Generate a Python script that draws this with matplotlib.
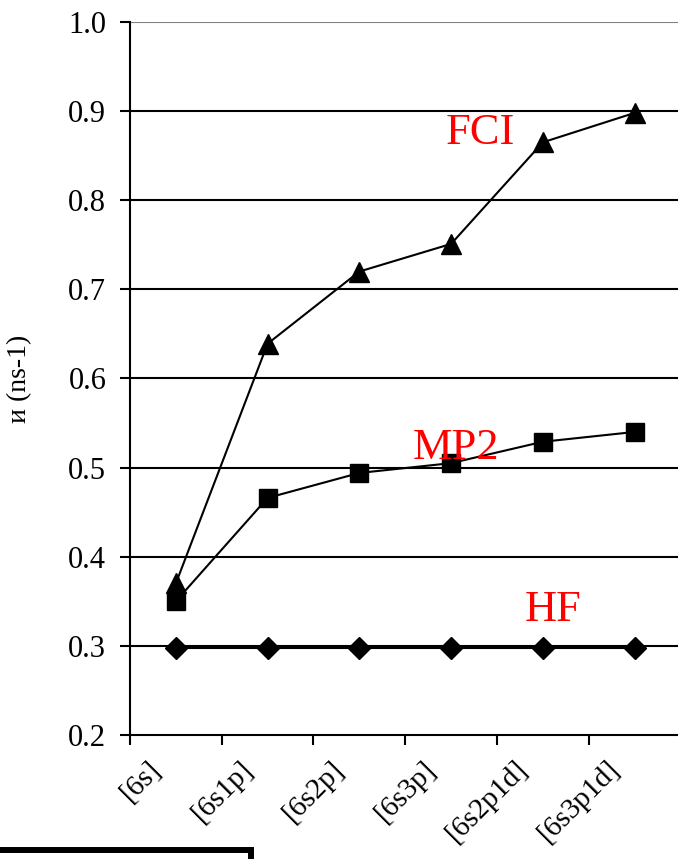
import matplotlib
matplotlib.use('Agg')
import matplotlib.pyplot as plt
import matplotlib.transforms as mtransforms
from matplotlib.patches import Rectangle

# basis sets
labels = ["[6s]", "[6s1p]", "[6s2p]", "[6s3p]", "[6s2p1d]", "[6s3p1d]"]
hf = [0.298, 0.298, 0.298, 0.298, 0.298, 0.298]
mp2 = [0.350, 0.466, 0.494, 0.505, 0.529, 0.540]
fci = [0.370, 0.639, 0.720, 0.751, 0.865, 0.898]

plt.rcParams['font.family'] = ['Liberation Serif', 'DejaVu Serif']

fig = plt.figure(figsize=(6.78, 8.59), dpi=100)
ax = fig.add_axes([0.1917, 0.1444, 0.812, 0.83])

x = [i + 0.5 for i in range(len(labels))]

#gridlines
for v in [0.3, 0.4, 0.5, 0.6, 0.7, 0.8, 0.9]:
    ax.axhline(v, color='black', lw=1.5, zorder=1)
ax.axhline(1.0, color='gray', lw=1.5, zorder=1)

ax.plot(x, hf, color='black', lw=1.5, marker='D', markersize=11, zorder=3)
ax.plot(x, mp2, color='black', lw=1.5, marker='s', markersize=13, zorder=3)
ax.plot(x, fci, color='black', lw=1.5, marker='^', markersize=15, zorder=3)

ax.text(3.82, 0.876, 'FCI', color='red', fontsize=32, ha='center', va='center')
ax.text(3.55, 0.522, 'MP2', color='red', fontsize=32, ha='center', va='center')
ax.text(4.61, 0.340, 'HF', color='red', fontsize=32, ha='center', va='center')

ax.set_xlim(0, 6)
ax.set_ylim(0.2, 1.0)
ax.set_yticks([0.2, 0.3, 0.4, 0.5, 0.6, 0.7, 0.8, 0.9, 1.0])
ax.set_yticklabels(['%.1f' % v for v in ax.get_yticks()], fontsize=22)
ax.set_xticks(x)
ax.set_xticklabels(labels, rotation=45, ha='right', rotation_mode='anchor', fontsize=21)
ax.set_xticks(range(0, 7), minor=True)
ax.tick_params(axis='x', which='major', length=0, pad=15)
ax.tick_params(axis='x', which='minor', length=7, width=1.5, direction='out')
ax.tick_params(axis='y', length=7, width=1.5, direction='out', pad=10)

# shift rotated labels to the left like the original
shift = mtransforms.ScaledTranslation(-28 / 100, 0, fig.dpi_scale_trans)
for lbl in ax.get_xticklabels():
    lbl.set_transform(lbl.get_transform() + shift)

ax.spines['top'].set_visible(False)
ax.spines['right'].set_visible(False)
ax.spines['left'].set_linewidth(1.5)
ax.spines['bottom'].set_linewidth(1.5)

ax.set_ylabel('и (ns-1)', fontsize=20)
ax.yaxis.set_label_coords(-0.178, 0.5)

#box at the bottom
fig.patches.append(Rectangle((-0.02, -0.05), 0.39, 0.061, transform=fig.transFigure,
                             fill=False, edgecolor='black', lw=4.3))

fig.savefig('out.png', dpi=100)
